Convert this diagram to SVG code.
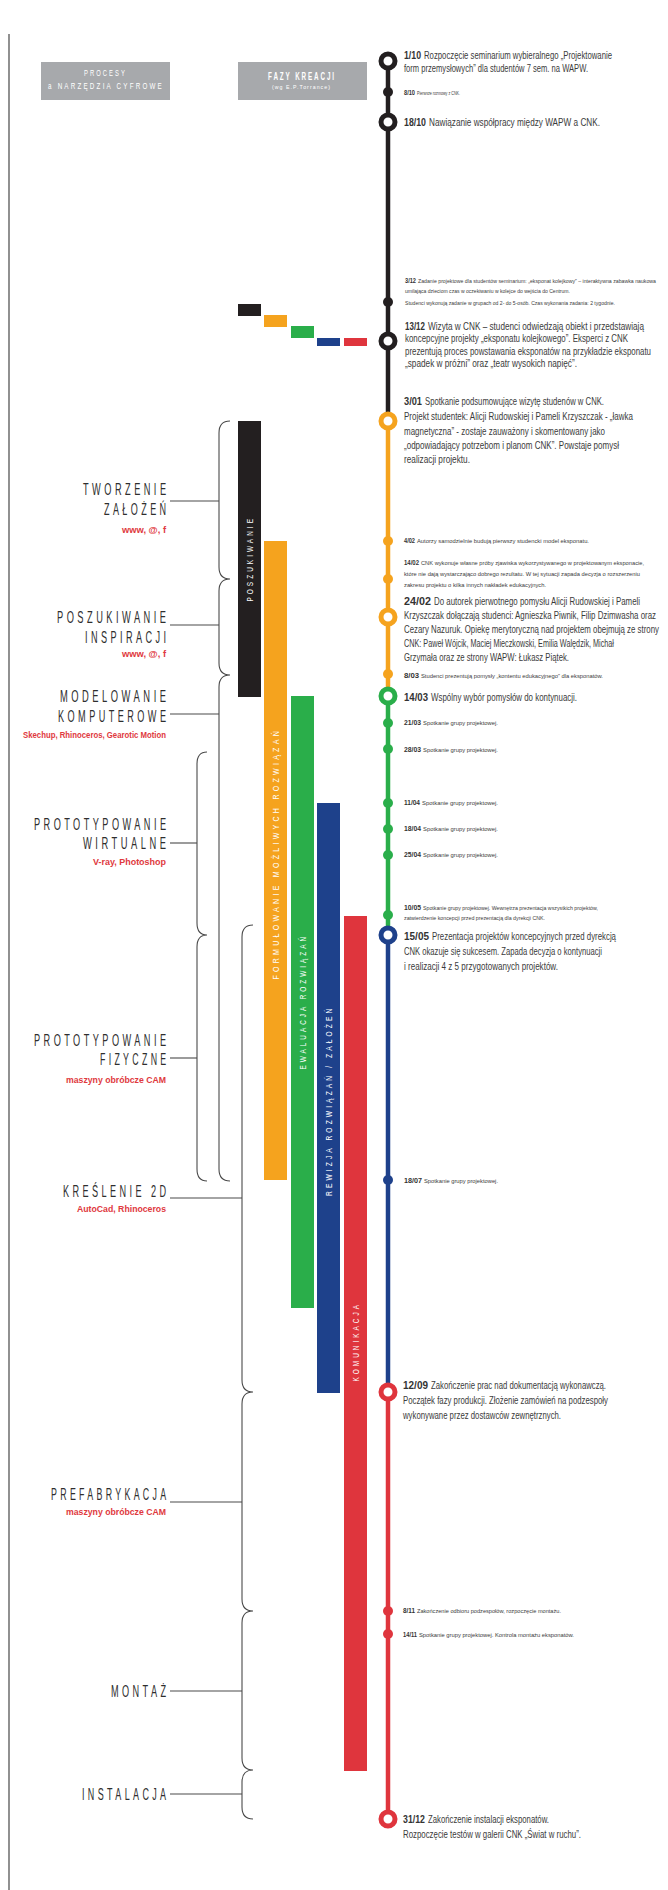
<svg xmlns="http://www.w3.org/2000/svg" width="668" height="1890" viewBox="0 0 668 1890">
<style>
text{font-family:"Liberation Sans",Arial,sans-serif}
.L{font-size:10px;fill:#3b3b3b}
.S{font-size:5.8px;fill:#3b3b3b}
.d{font-weight:bold;font-size:11.5px;fill:#333}
.ds{font-weight:bold;font-size:6.5px;fill:#333}
.lab{font-size:16px;fill:#2e2e2e;letter-spacing:6px}
.tool{font-size:9px;font-weight:bold;fill:#e0393e}
.bar{font-size:8.5px;fill:#fff;letter-spacing:4px}
.hd{fill:#fff}
.br{fill:none;stroke:#4a4a4a;stroke-width:1.1}
.cn{stroke:#4a4a4a;stroke-width:1.1}
.ring{fill:#fff;stroke-width:5}
</style>
<rect width="668" height="1890" fill="#fff"/>
<line x1="9" y1="34" x2="9" y2="1890" stroke="#555" stroke-width="1.3"/>

<g id="header">
<rect x="41" y="62" width="129" height="38" fill="#a7a9ac"/>
<text class="hd" transform="translate(84,76) scale(0.7,1)" font-size="8.5" letter-spacing="3" textLength="61.4" lengthAdjust="spacingAndGlyphs">PROCESY</text>
<text class="hd" transform="translate(48,89) scale(0.7,1)" font-size="8.5" letter-spacing="3" textLength="165.7" lengthAdjust="spacingAndGlyphs">a NARZĘDZIA CYFROWE</text>
<rect x="238" y="62" width="129" height="38" fill="#a7a9ac"/>
<text class="hd" transform="translate(268,80) scale(0.6,1)" font-size="10" font-weight="bold" letter-spacing="3" textLength="113.3" lengthAdjust="spacingAndGlyphs">FAZY KREACJI</text>
<text class="hd" transform="translate(272,89)" font-size="5" letter-spacing="1" textLength="59" lengthAdjust="spacingAndGlyphs">(wg E.P.Torrance)</text>
</g>

<g id="legend">
<rect x="238" y="304" width="23" height="12" fill="#231f20"/>
<rect x="264" y="315" width="23" height="12" fill="#f5a31e"/>
<rect x="291" y="326" width="23" height="12" fill="#2aae4a"/>
<rect x="317" y="338" width="23" height="8" fill="#1e418b"/>
<rect x="344" y="338" width="23" height="8" fill="#df353d"/>
</g>

<g id="phase-bars">
<rect x="238" y="421" width="23" height="276" fill="#231f20"/>
<rect x="264" y="541" width="23" height="639" fill="#f5a31e"/>
<rect x="291" y="696" width="23" height="612" fill="#2aae4a"/>
<rect x="317" y="803" width="23" height="590" fill="#1e418b"/>
<rect x="344" y="916" width="23" height="855" fill="#df353d"/>
<text class="bar" transform="translate(252.7,560) rotate(-90) scale(0.7,1)" x="-59.3" textLength="122.1" lengthAdjust="spacingAndGlyphs">POSZUKIWANIE</text>
<text class="bar" transform="translate(278.7,855) rotate(-90) scale(0.7,1)" x="-177.9" textLength="359.3" lengthAdjust="spacingAndGlyphs">FORMUŁOWANIE MOŻLIWYCH ROZWIĄZAŃ</text>
<text class="bar" transform="translate(305.7,1003) rotate(-90) scale(0.7,1)" x="-95" textLength="193.6" lengthAdjust="spacingAndGlyphs">EWALUACJA ROZWIĄZAŃ</text>
<text class="bar" transform="translate(331.7,1102) rotate(-90) scale(0.7,1)" x="-134.3" textLength="272.1" lengthAdjust="spacingAndGlyphs">REWIZJA ROZWIĄZAŃ / ZAŁOŻEŃ</text>
<text class="bar" transform="translate(358.7,1343) rotate(-90) scale(0.7,1)" x="-55" textLength="113.6" lengthAdjust="spacingAndGlyphs">KOMUNIKACJA</text>
</g>

<g id="connectors">
<line x1="388" y1="61" x2="388" y2="412" stroke="#231f20" stroke-width="4.5"/>
<line x1="388" y1="412" x2="388" y2="687" stroke="#f5a31e" stroke-width="4.5"/>
<line x1="388" y1="687" x2="388" y2="926" stroke="#2aae4a" stroke-width="4.5"/>
<line x1="388" y1="926" x2="388" y2="1383" stroke="#1e418b" stroke-width="4.5"/>
<line x1="388" y1="1383" x2="388" y2="1819" stroke="#df353d" stroke-width="4.5"/>
<path class="br" d="M230,421 Q219,421 219,433 L219,567 Q219,579 230,579 Q219,579 219,591 L219,663 Q219,675 230,675 Q219,675 219,687 L219,1169 Q219,1181 230,1181"/>
<path class="br" d="M207,752 Q197,752 197,764 L197,923 Q197,935 207,935 Q197,935 197,947 L197,1169 Q197,1181 207,1181"/>
<path class="br" d="M253,925 Q242,925 242,937 L242,1380 Q242,1392 253,1392 Q242,1392 242,1404 L242,1599 Q242,1611 253,1611 Q242,1611 242,1623 L242,1758 Q242,1770 253,1770 Q242,1770 242,1782 L242,1807 Q242,1819 253,1819"/>
<line class="cn" x1="170" y1="501" x2="219" y2="501"/>
<line class="cn" x1="170" y1="625" x2="219" y2="625"/>
<line class="cn" x1="170" y1="714" x2="219" y2="714"/>
<line class="cn" x1="170" y1="843" x2="197" y2="843"/>
<line class="cn" x1="170" y1="1058" x2="197" y2="1058"/>
<line class="cn" x1="170" y1="1198" x2="242" y2="1198"/>
<line class="cn" x1="170" y1="1502" x2="242" y2="1502"/>
<line class="cn" x1="170" y1="1691" x2="242" y2="1691"/>
<line class="cn" x1="170" y1="1794" x2="242" y2="1794"/>
</g>

<g id="label-tworzenie">
<text class="lab" transform="translate(83,495) scale(0.6,1)" textLength="144.2" lengthAdjust="spacingAndGlyphs">TWORZENIE</text>
<text class="lab" transform="translate(104,515) scale(0.6,1)" textLength="109.2" lengthAdjust="spacingAndGlyphs">ZAŁOŻEŃ</text>
<text class="tool" transform="translate(122,533) scale(0.8,1)" textLength="55" lengthAdjust="spacingAndGlyphs">www, @, f</text>
</g>
<g id="label-poszukiwanie">
<text class="lab" transform="translate(57,623) scale(0.6,1)" textLength="187.5" lengthAdjust="spacingAndGlyphs">POSZUKIWANIE</text>
<text class="lab" transform="translate(85,643) scale(0.6,1)" textLength="140.8" lengthAdjust="spacingAndGlyphs">INSPIRACJI</text>
<text class="tool" transform="translate(122,657) scale(0.8,1)" textLength="55" lengthAdjust="spacingAndGlyphs">www, @, f</text>
</g>
<g id="label-modelowanie">
<text class="lab" transform="translate(60,702) scale(0.6,1)" textLength="182.5" lengthAdjust="spacingAndGlyphs">MODELOWANIE</text>
<text class="lab" transform="translate(58,722) scale(0.6,1)" textLength="185.8" lengthAdjust="spacingAndGlyphs">KOMPUTEROWE</text>
<text class="tool" transform="translate(23,738) scale(0.8,1)" textLength="178.75" lengthAdjust="spacingAndGlyphs">Skechup, Rhinoceros, Gearotic Motion</text>
</g>
<g id="label-wirtualne">
<text class="lab" transform="translate(34,830) scale(0.6,1)" textLength="225.8" lengthAdjust="spacingAndGlyphs">PROTOTYPOWANIE</text>
<text class="lab" transform="translate(83,849) scale(0.6,1)" textLength="144.2" lengthAdjust="spacingAndGlyphs">WIRTUALNE</text>
<text class="tool" transform="translate(93,865) scale(0.8,1)" textLength="91.25" lengthAdjust="spacingAndGlyphs">V-ray, Photoshop</text>
</g>
<g id="label-fizyczne">
<text class="lab" transform="translate(34,1046) scale(0.6,1)" textLength="225.8" lengthAdjust="spacingAndGlyphs">PROTOTYPOWANIE</text>
<text class="lab" transform="translate(100,1065) scale(0.6,1)" textLength="115.8" lengthAdjust="spacingAndGlyphs">FIZYCZNE</text>
<text class="tool" transform="translate(66,1083) scale(0.8,1)" textLength="125" lengthAdjust="spacingAndGlyphs">maszyny obróbcze CAM</text>
</g>
<g id="label-kreslenie">
<text class="lab" transform="translate(63,1197) scale(0.6,1)" textLength="177.5" lengthAdjust="spacingAndGlyphs">KREŚLENIE 2D</text>
<text class="tool" transform="translate(77,1212) scale(0.8,1)" textLength="111.25" lengthAdjust="spacingAndGlyphs">AutoCad, Rhinoceros</text>
</g>
<g id="label-prefabrykacja">
<text class="lab" transform="translate(51,1500) scale(0.6,1)" textLength="197.5" lengthAdjust="spacingAndGlyphs">PREFABRYKACJA</text>
<text class="tool" transform="translate(66,1515) scale(0.8,1)" textLength="125" lengthAdjust="spacingAndGlyphs">maszyny obróbcze CAM</text>
</g>
<g id="label-montaz">
<text class="lab" transform="translate(111,1697) scale(0.6,1)" textLength="97.5" lengthAdjust="spacingAndGlyphs">MONTAŻ</text>
</g>
<g id="label-instalacja">
<text class="lab" transform="translate(82,1800) scale(0.6,1)" textLength="145.8" lengthAdjust="spacingAndGlyphs">INSTALACJA</text>
</g>

<g id="ev-0110">
<circle class="ring" cx="388" cy="61" r="7" stroke="#231f20"/>
<text class="d" transform="translate(404,59) scale(0.76,1)" textLength="22.4" lengthAdjust="spacingAndGlyphs">1/10</text>
<text class="L" transform="translate(424,59) scale(0.76,1)" textLength="247.4" lengthAdjust="spacingAndGlyphs">Rozpoczęcie seminarium wybieralnego „Projektowanie</text>
<text class="L" transform="translate(404,72) scale(0.76,1)" textLength="242.1" lengthAdjust="spacingAndGlyphs">form przemysłowych” dla studentów 7 sem. na WAPW.</text>
</g>
<g id="ev-0810">
<circle cx="388" cy="92" r="5" fill="#231f20"/>
<text class="ds" transform="translate(404,95) scale(0.9,1)" textLength="12.2" lengthAdjust="spacingAndGlyphs">8/10</text>
<text class="S" transform="translate(417,95) scale(0.9,1)" textLength="47.8" lengthAdjust="spacingAndGlyphs">Pierwsze rozmowy z CNK.</text>
</g>
<g id="ev-1810">
<circle class="ring" cx="388" cy="122" r="7" stroke="#231f20"/>
<text class="d" transform="translate(404,126) scale(0.76,1)" textLength="28.9" lengthAdjust="spacingAndGlyphs">18/10</text>
<text class="L" transform="translate(429,126) scale(0.76,1)" textLength="225" lengthAdjust="spacingAndGlyphs">Nawiązanie współpracy między WAPW a CNK.</text>
</g>
<g id="ev-0312">
<circle cx="388" cy="302" r="5" fill="#231f20"/>
<text class="ds" transform="translate(405,283) scale(0.9,1)" textLength="12.2" lengthAdjust="spacingAndGlyphs">3/12</text>
<text class="S" transform="translate(418,283) scale(0.9,1)" textLength="264.4" lengthAdjust="spacingAndGlyphs">Zadanie projektowe dla studentów seminarium: „eksponat kolejkowy” – interaktywna zabawka naukowa</text>
<text class="S" transform="translate(405,293) scale(0.9,1)" textLength="183.3" lengthAdjust="spacingAndGlyphs">umilająca dzieciom czas w oczekiwaniu w kolejce do wejścia do Centrum.</text>
<text class="S" transform="translate(405,305) scale(0.9,1)" textLength="233.3" lengthAdjust="spacingAndGlyphs">Studenci wykonują zadanie w grupach od 2- do 5-osób. Czas wykonania zadania: 2 tygodnie.</text>
</g>
<g id="ev-1312">
<circle class="ring" cx="388" cy="341" r="7" stroke="#231f20"/>
<text class="d" transform="translate(405,330) scale(0.76,1)" textLength="26.3" lengthAdjust="spacingAndGlyphs">13/12</text>
<text class="L" transform="translate(428,330) scale(0.76,1)" textLength="284.2" lengthAdjust="spacingAndGlyphs">Wizyta w CNK – studenci odwiedzają obiekt i przedstawiają</text>
<text class="L" transform="translate(405,342) scale(0.76,1)" textLength="293.4" lengthAdjust="spacingAndGlyphs">koncepcyjne projekty „eksponatu kolejkowego”. Eksperci z CNK</text>
<text class="L" transform="translate(405,355) scale(0.76,1)" textLength="323.7" lengthAdjust="spacingAndGlyphs">prezentują proces powstawania eksponatów na przykładzie eksponatu</text>
<text class="L" transform="translate(405,367) scale(0.76,1)" textLength="226.3" lengthAdjust="spacingAndGlyphs">„spadek w próżni” oraz „teatr wysokich napięć”.</text>
</g>
<g id="ev-0301">
<circle class="ring" cx="388" cy="421" r="7" stroke="#f5a31e"/>
<text class="d" transform="translate(404,405) scale(0.76,1)" textLength="23.7" lengthAdjust="spacingAndGlyphs">3/01</text>
<text class="L" transform="translate(425,405) scale(0.76,1)" textLength="235.5" lengthAdjust="spacingAndGlyphs">Spotkanie podsumowujące wizytę studenów w CNK.</text>
<text class="L" transform="translate(404,420) scale(0.76,1)" textLength="301.3" lengthAdjust="spacingAndGlyphs">Projekt studentek: Alicji Rudowskiej i Pameli Krzyszczak - „ławka</text>
<text class="L" transform="translate(404,435) scale(0.76,1)" textLength="264.5" lengthAdjust="spacingAndGlyphs">magnetyczna” - zostaje zauważony i skomentowany jako</text>
<text class="L" transform="translate(404,449) scale(0.76,1)" textLength="282.9" lengthAdjust="spacingAndGlyphs">„odpowiadający potrzebom i planom CNK”.  Powstaje pomysł</text>
<text class="L" transform="translate(404,463) scale(0.76,1)" textLength="86.8" lengthAdjust="spacingAndGlyphs">realizacji projektu.</text>
</g>
<g id="ev-0402">
<circle cx="388" cy="541" r="5" fill="#f5a31e"/>
<text class="ds" transform="translate(404,543) scale(0.9,1)" textLength="12.2" lengthAdjust="spacingAndGlyphs">4/02</text>
<text class="S" transform="translate(417,543) scale(0.9,1)" textLength="191.1" lengthAdjust="spacingAndGlyphs">Autorzy samodzielnie budują pierwszy studencki model eksponatu.</text>
</g>
<g id="ev-1402">
<circle cx="388" cy="579" r="5" fill="#f5a31e"/>
<text class="ds" transform="translate(404,565) scale(0.9,1)" textLength="16.7" lengthAdjust="spacingAndGlyphs">14/02</text>
<text class="S" transform="translate(421,565) scale(0.9,1)" textLength="247.8" lengthAdjust="spacingAndGlyphs">CNK wykonuje własne próby zjawiska wykorzystywanego w projektowanym eksponacie,</text>
<text class="S" transform="translate(404,576) scale(0.9,1)" textLength="262.2" lengthAdjust="spacingAndGlyphs">które nie dają wystarczająco dobrego rezultatu. W tej sytuacji zapada decyzja o rozszerzeniu</text>
<text class="S" transform="translate(404,587) scale(0.9,1)" textLength="157.8" lengthAdjust="spacingAndGlyphs">zakresu projektu o kilka innych nakładek edukacyjnych.</text>
</g>
<g id="ev-2402">
<circle class="ring" cx="388" cy="617" r="7" stroke="#f5a31e"/>
<text class="d" transform="translate(404,605) scale(0.76,1)" textLength="35.5" lengthAdjust="spacingAndGlyphs">24/02</text>
<text class="L" transform="translate(434,605) scale(0.76,1)" textLength="271.1" lengthAdjust="spacingAndGlyphs">Do autorek pierwotnego pomysłu Alicji Rudowskiej i Pameli</text>
<text class="L" transform="translate(404,619) scale(0.76,1)" textLength="331.6" lengthAdjust="spacingAndGlyphs">Krzyszczak dołączają studenci: Agnieszka Piwnik, Filip Dzimwasha oraz</text>
<text class="L" transform="translate(404,633) scale(0.76,1)" textLength="335.5" lengthAdjust="spacingAndGlyphs">Cezary Nazuruk. Opiekę merytoryczną nad projektem obejmują ze strony</text>
<text class="L" transform="translate(404,647) scale(0.76,1)" textLength="276.3" lengthAdjust="spacingAndGlyphs">CNK: Paweł Wójcik, Maciej Mieczkowski, Emilia Walędzik, Michał</text>
<text class="L" transform="translate(404,661) scale(0.76,1)" textLength="217.1" lengthAdjust="spacingAndGlyphs">Grzymała oraz ze strony WAPW: Łukasz Piątek.</text>
</g>
<g id="ev-0803">
<circle cx="388" cy="674" r="5" fill="#f5a31e"/>
<text class="ds" transform="translate(404,678) scale(0.9,1)" textLength="16.7" lengthAdjust="spacingAndGlyphs">8/03</text>
<text class="S" transform="translate(421,678) scale(0.9,1)" textLength="202.2" lengthAdjust="spacingAndGlyphs">Studenci prezentują pomysły „kontentu edukacyjnego” dla eksponatów.</text>
</g>
<g id="ev-1403">
<circle class="ring" cx="388" cy="696" r="7" stroke="#2aae4a"/>
<text class="d" transform="translate(404,701) scale(0.76,1)" textLength="31.6" lengthAdjust="spacingAndGlyphs">14/03</text>
<text class="L" transform="translate(431,701) scale(0.76,1)" textLength="192.1" lengthAdjust="spacingAndGlyphs">Wspólny wybór pomysłów do kontynuacji.</text>
</g>
<g id="ev-2103">
<circle cx="388" cy="723" r="5" fill="#2aae4a"/>
<text class="ds" transform="translate(404,725) scale(0.9,1)" textLength="18.9" lengthAdjust="spacingAndGlyphs">21/03</text>
<text class="S" transform="translate(423,725) scale(0.9,1)" textLength="83.3" lengthAdjust="spacingAndGlyphs">Spotkanie grupy projektowej.</text>
</g>
<g id="ev-2803">
<circle cx="388" cy="749" r="5" fill="#2aae4a"/>
<text class="ds" transform="translate(404,752) scale(0.9,1)" textLength="18.9" lengthAdjust="spacingAndGlyphs">28/03</text>
<text class="S" transform="translate(423,752) scale(0.9,1)" textLength="83.3" lengthAdjust="spacingAndGlyphs">Spotkanie grupy projektowej.</text>
</g>
<g id="ev-1104">
<circle cx="388" cy="803" r="5" fill="#2aae4a"/>
<text class="ds" transform="translate(404,805) scale(0.9,1)" textLength="17.8" lengthAdjust="spacingAndGlyphs">11/04</text>
<text class="S" transform="translate(422,805) scale(0.9,1)" textLength="84.4" lengthAdjust="spacingAndGlyphs">Spotkanie grupy projektowej.</text>
</g>
<g id="ev-1804">
<circle cx="388" cy="829" r="5" fill="#2aae4a"/>
<text class="ds" transform="translate(404,831) scale(0.9,1)" textLength="18.9" lengthAdjust="spacingAndGlyphs">18/04</text>
<text class="S" transform="translate(423,831) scale(0.9,1)" textLength="83.3" lengthAdjust="spacingAndGlyphs">Spotkanie grupy projektowej.</text>
</g>
<g id="ev-2504">
<circle cx="388" cy="855" r="5" fill="#2aae4a"/>
<text class="ds" transform="translate(404,857) scale(0.9,1)" textLength="18.9" lengthAdjust="spacingAndGlyphs">25/04</text>
<text class="S" transform="translate(423,857) scale(0.9,1)" textLength="83.3" lengthAdjust="spacingAndGlyphs">Spotkanie grupy projektowej.</text>
</g>
<g id="ev-1005">
<circle cx="388" cy="915" r="5" fill="#2aae4a"/>
<text class="ds" transform="translate(404,910) scale(0.9,1)" textLength="18.9" lengthAdjust="spacingAndGlyphs">10/05</text>
<text class="S" transform="translate(423,910) scale(0.9,1)" textLength="194.4" lengthAdjust="spacingAndGlyphs">Spotkanie grupy projektowej. Wewnętrza prezentacja wszystkich projektów,</text>
<text class="S" transform="translate(404,920) scale(0.9,1)" textLength="156.7" lengthAdjust="spacingAndGlyphs">zatwierdzenie koncepcji przed prezentacją dla dyrekcji CNK.</text>
</g>
<g id="ev-1505">
<circle class="ring" cx="388" cy="935" r="7" stroke="#1e418b"/>
<text class="d" transform="translate(404,940) scale(0.76,1)" textLength="32.9" lengthAdjust="spacingAndGlyphs">15/05</text>
<text class="L" transform="translate(432,940) scale(0.76,1)" textLength="242.1" lengthAdjust="spacingAndGlyphs">Prezentacja projektów koncepcyjnych przed dyrekcją</text>
<text class="L" transform="translate(404,955) scale(0.76,1)" textLength="260.5" lengthAdjust="spacingAndGlyphs">CNK okazuje się sukcesem. Zapada decyzja o kontynuacji</text>
<text class="L" transform="translate(404,970) scale(0.76,1)" textLength="202.6" lengthAdjust="spacingAndGlyphs">i realizacji 4 z 5 przygotowanych projektów.</text>
</g>
<g id="ev-1807">
<circle cx="388" cy="1180" r="5" fill="#1e418b"/>
<text class="ds" transform="translate(404,1183) scale(0.9,1)" textLength="20" lengthAdjust="spacingAndGlyphs">18/07</text>
<text class="S" transform="translate(424,1183) scale(0.9,1)" textLength="82.2" lengthAdjust="spacingAndGlyphs">Spotkanie grupy projektowej.</text>
</g>
<g id="ev-1209">
<circle class="ring" cx="388" cy="1392" r="7" stroke="#df353d"/>
<text class="d" transform="translate(403,1389) scale(0.76,1)" textLength="32.9" lengthAdjust="spacingAndGlyphs">12/09</text>
<text class="L" transform="translate(431,1389) scale(0.76,1)" textLength="230.3" lengthAdjust="spacingAndGlyphs">Zakończenie prac nad dokumentacją wykonawczą.</text>
<text class="L" transform="translate(403,1404) scale(0.76,1)" textLength="269.7" lengthAdjust="spacingAndGlyphs">Początek fazy produkcji. Złożenie zamówień na podzespoły</text>
<text class="L" transform="translate(403,1419) scale(0.76,1)" textLength="207.9" lengthAdjust="spacingAndGlyphs">wykonywane przez dostawców zewnętrznych.</text>
</g>
<g id="ev-0811">
<circle cx="388" cy="1611" r="5" fill="#df353d"/>
<text class="ds" transform="translate(403,1613) scale(0.9,1)" textLength="13.3" lengthAdjust="spacingAndGlyphs">8/11</text>
<text class="S" transform="translate(417,1613) scale(0.9,1)" textLength="160" lengthAdjust="spacingAndGlyphs">Zakończenie odbioru podzespołów, rozpoczęcie montażu.</text>
</g>
<g id="ev-1411">
<circle cx="388" cy="1634" r="5" fill="#df353d"/>
<text class="ds" transform="translate(403,1637) scale(0.9,1)" textLength="15.6" lengthAdjust="spacingAndGlyphs">14/11</text>
<text class="S" transform="translate(419,1637) scale(0.9,1)" textLength="172.2" lengthAdjust="spacingAndGlyphs">Spotkanie grupy projektowej. Kontrola montażu eksponatów.</text>
</g>
<g id="ev-3112">
<circle class="ring" cx="388" cy="1819" r="7" stroke="#df353d"/>
<text class="d" transform="translate(403,1823) scale(0.76,1)" textLength="28.9" lengthAdjust="spacingAndGlyphs">31/12</text>
<text class="L" transform="translate(428,1823) scale(0.76,1)" textLength="159.2" lengthAdjust="spacingAndGlyphs">Zakończenie instalacji eksponatów.</text>
<text class="L" transform="translate(403,1838) scale(0.76,1)" textLength="234.2" lengthAdjust="spacingAndGlyphs">Rozpoczęcie testów w galerii CNK „Świat w ruchu”.</text>
</g>
</svg>
